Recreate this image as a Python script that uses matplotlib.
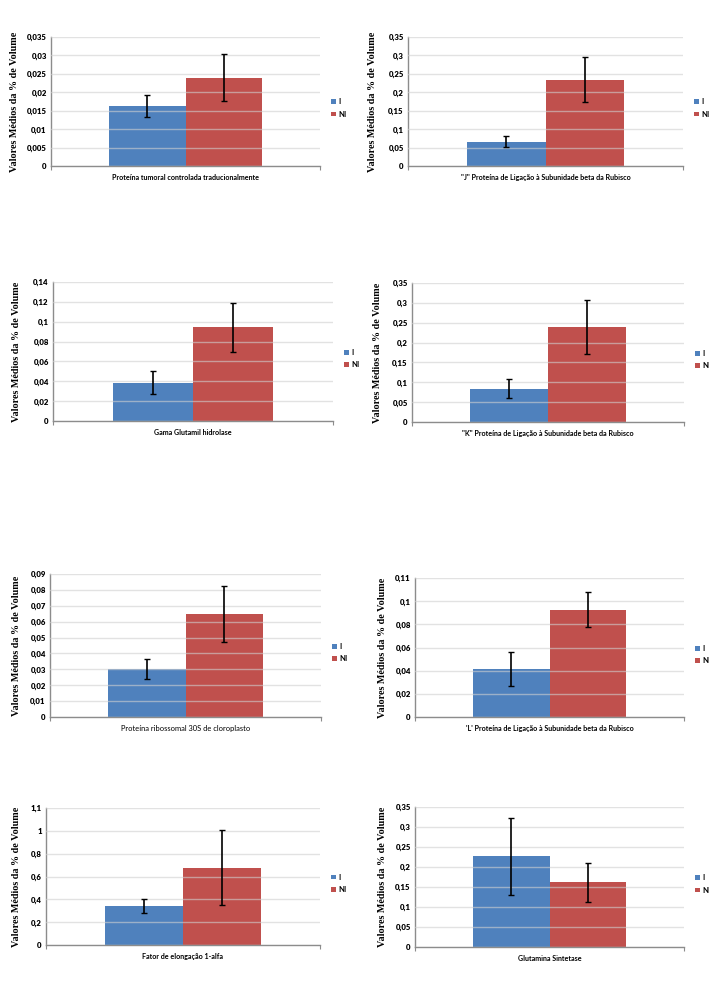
import matplotlib.pyplot as plt
import numpy as np

# Dados (valores médios da % de volume)
categorias = [
    "Proteína tumoral controlada traducionalmente",
    "\"J\" Proteína de Ligação à Subunidade beta da Rubisco",
    "Gama Glutamil hidrolase",
    "\"K\" Proteína de Ligação à Subunidade beta da Rubisco",
    "Proteína ribossomal 30S de cloroplasto",
    "'L' Proteína de Ligação à Subunidade beta da Rubisco",
    "Fator de elongação 1-alfa",
    "Glutamina Sintetase",
]
series = ["I", "NI"]
media_I = [0.0163, 0.0664, 0.0383, 0.0843, 0.0302, 0.0415, 0.342, 0.227]
media_NI = [0.0240, 0.2336, 0.0943, 0.2387, 0.0648, 0.0928, 0.678, 0.162]
erro_I = [0.0029, 0.0155, 0.0116, 0.0232, 0.0062, 0.0145, 0.060, 0.096]
erro_NI = [0.0065, 0.0610, 0.0245, 0.0675, 0.0176, 0.0153, 0.326, 0.049]

ticks_y = [
    [0, 0.005, 0.01, 0.015, 0.02, 0.025, 0.03, 0.035],
    [0, 0.05, 0.1, 0.15, 0.2, 0.25, 0.3, 0.35],
    [0, 0.02, 0.04, 0.06, 0.08, 0.1, 0.12, 0.14],
    [0, 0.05, 0.1, 0.15, 0.2, 0.25, 0.3, 0.35],
    [0, 0.01, 0.02, 0.03, 0.04, 0.05, 0.06, 0.07, 0.08, 0.09],
    [0, 0.02, 0.04, 0.06, 0.08, 0.1, 0.12],
    [0, 0.2, 0.4, 0.6, 0.8, 1.0, 1.2],
    [0, 0.05, 0.1, 0.15, 0.2, 0.25, 0.3, 0.35],
]
rotulos_y = [
    ["0", "0,005", "0,01", "0,015", "0,02", "0,025", "0,03", "0,035"],
    ["0", "0,05", "0,1", "0,15", "0,2", "0,25", "0,3", "0,35"],
    ["0", "0,02", "0,04", "0,06", "0,08", "0,1", "0,12", "0,14"],
    ["0", "0,05", "0,1", "0,15", "0,2", "0,25", "0,3", "0,35"],
    ["0", "0,01", "0,02", "0,03", "0,04", "0,05", "0,06", "0,07", "0,08", "0,09"],
    ["0", "0,02", "0,04", "0,06", "0,08", "0,1", "0,11"],
    ["0", "0,2", "0,4", "0,6", "0,8", "1", "1,1"],
    ["0", "0,05", "0,1", "0,15", "0,2", "0,25", "0,3", "0,35"],
]

# Posição de cada painel em pixels (esq, topo, dir, base) e recuo do rótulo Y
W, H = 709, 1005
caixas = [
    (51, 37, 320, 166), (408, 37, 683, 166),
    (53, 282, 333, 421), (412, 283, 684, 422),
    (50, 574, 321, 717), (415, 578, 684, 717),
    (46, 808, 320, 945), (415, 807, 684, 947),
]
recuo_ylabel = [-32, -31, -32, -30, -29, -28, -25, -28]

cor_I = "#4F81BD"
cor_NI = "#C0504D"
cor_eixo = "#8C8C8C"
largura = 0.286

fig = plt.figure(figsize=(W / 100, H / 100), dpi=100)

for i, (esq, topo, dire, base) in enumerate(caixas):
    ax = fig.add_axes([esq / W, 1 - base / H, (dire - esq) / W, (base - topo) / H])
    larg_px = dire - esq

    ax.bar(-largura / 2, media_I[i], largura, color=cor_I, label=series[0], zorder=1)
    ax.bar(largura / 2, media_NI[i], largura, color=cor_NI, label=series[1], zorder=1)
    ax.errorbar([-largura / 2, largura / 2], [media_I[i], media_NI[i]],
                yerr=[erro_I[i], erro_NI[i]], fmt="none", ecolor="black",
                elinewidth=1.2, capsize=2, capthick=1, zorder=3)

    ax.set_xlim(-0.5, 0.5)
    ax.set_ylim(0, ticks_y[i][-1])
    ax.set_yticks(ticks_y[i])
    ax.set_yticklabels(rotulos_y[i], fontfamily="Lato", fontweight="heavy", fontsize=5.6)
    ax.tick_params(axis="y", length=0, pad=3)

    ax.set_xticks([0])
    peso = "normal" if i == 4 else "bold"
    ax.set_xticklabels([categorias[i]], fontfamily="Lato", fontweight=peso,
                       fontsize=5.4 if i == 4 else 5.1)
    ax.tick_params(axis="x", which="major", length=0, pad=6)
    ax.set_xticks([-0.5, 0.5], minor=True)
    ax.tick_params(axis="x", which="minor", length=3, color=cor_eixo, width=0.8)

    ax.grid(axis="y", color="#D0D0D0", alpha=0.6, linewidth=1)
    ax.set_axisbelow(False)

    for lado in ["top", "right"]:
        ax.spines[lado].set_visible(False)
    for lado in ["left", "bottom"]:
        ax.spines[lado].set_color(cor_eixo)
        ax.spines[lado].set_linewidth(1)

    ax.set_ylabel("Valores Médios da % de Volume", fontfamily="Liberation Serif",
                  fontweight="bold", fontsize=7.3)
    ax.yaxis.set_label_coords(recuo_ylabel[i] / larg_px, 0.5)

    ax.legend(loc="center left", bbox_to_anchor=(1 + 11 / larg_px, 0.45),
              frameon=False, borderaxespad=0, borderpad=0,
              handlelength=0.7, handleheight=0.6, handletextpad=0.3,
              labelspacing=0.7, prop={"family": "Lato", "weight": "bold", "size": 5.5})

fig.savefig("out.png", dpi=100)
plt.close(fig)
